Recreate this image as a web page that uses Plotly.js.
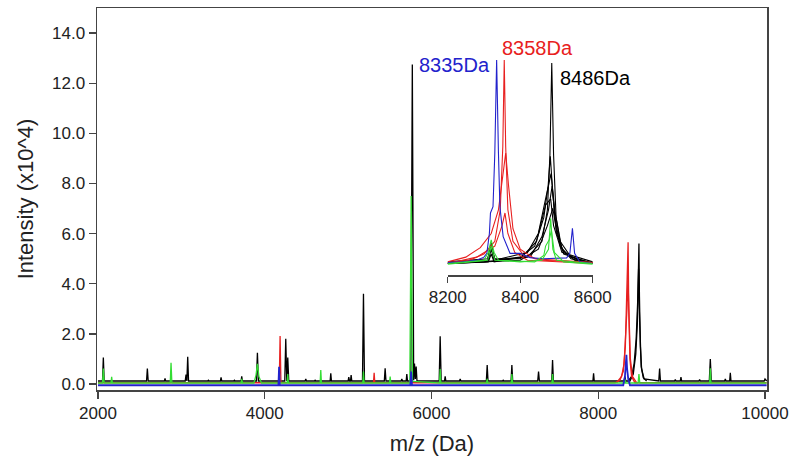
<!DOCTYPE html>
<html>
<head>
<meta charset="utf-8">
<script src="https://cdn.plot.ly/plotly-3.0.1.min.js"></script>
<style>html,body{margin:0;padding:0;background:#fff;}#chart{width:800px;height:472px;}</style>
</head>
<body>
<div id="chart"></div>
<script>
// ---------------- Main spectrum data (intensity in x10^4) ----------------
const blackMz = [2000,
  2054,2064,2074, 2582,2592,2602, 2796,2804,2812, 3046,3056,3066,3076,3086,
  3316,3324,3332, 3468,3476,3484, 3628,3636,3644, 3716,3724,3732, 3900,3912,3924,
  4240,4252,4264,4276,4288, 4484,4492,4500, 4596,4604,4612, 4784,4792,4800,
  5000,5008,5016,5028,5036,5044, 5172,5184,5196, 5434,5444,5454, 5636,5644,5652,
  5696,5704,5712, 5752,5770,5786,5796,5806,5816,5826, 6092,6104,6116, 6156,6164,6172,
  6336,6344,6352, 6658,6668,6678, 6852,6860,6868, 6954,6964,6974, 7274,7284,7294,
  7442,7452,7462, 7936,7944,7952, 8310,8320,8330,
  8380,8420,8450,8470,8482,8488,8494,8505,8520,8550,
  8726,8736,8746, 8916,8924,8932, 8984,8992,9000, 9208,9216,9224, 9332,9344,9356,
  9516,9524,9532, 9576,9584,9592, 9990,10000,10020];
const blackInt = [0.12,
  0.12,1.06,0.12, 0.12,0.62,0.12, 0.12,0.22,0.12, 0.12,0.37,0.12,1.09,0.12,
  0.12,0.15,0.12, 0.12,0.26,0.12, 0.12,0.15,0.12, 0.12,0.3,0.12, 0.12,1.25,0.12,
  0.12,1.8,0.12,1.06,0.12, 0.12,0.2,0.12, 0.12,0.15,0.12, 0.12,0.43,0.12,
  0.12,0.27,0.12,0.12,0.36,0.12, 0.12,3.6,0.12, 0.12,0.63,0.12, 0.12,0.2,0.12,
  0.12,0.4,0.12, 0.12,12.75,0.15,0.82,0.2,0.7,0.12, 0.12,1.9,0.12, 0.12,0.3,0.12,
  0.12,0.2,0.12, 0.12,0.76,0.12, 0.12,0.15,0.12, 0.12,0.76,0.12, 0.12,0.5,0.12,
  0.12,0.96,0.12, 0.12,0.43,0.12, 0.12,0.3,0.12,
  0.12,0.4,1.2,2.5,4.0,5.6,3.5,1.5,0.6,0.2,
  0.12,0.62,0.12, 0.12,0.18,0.12, 0.12,0.27,0.12, 0.12,0.18,0.12, 0.12,1.0,0.12,
  0.12,0.2,0.12, 0.12,0.45,0.12, 0.12,0.2,0.12];
const blackBMz  = [8360, 8400, 8430, 8455, 8472, 8484, 8492, 8502, 8515, 8540, 8580];
const blackBInt = [0.12, 0.3, 0.8, 1.8, 3.2, 4.6, 3.0, 1.6, 0.7, 0.25, 0.12];

const redMz  = [2000, 4174,4184,4194, 5304,5312,5320,
  8200,8260,8300,8325,8340,8352,8358,8366,8380,8400,8440, 10020];
const redInt = [0.05, 0.05,1.91,0.05, 0.05,0.45,0.05,
  0.05,0.15,0.5,1.5,3.0,4.6,5.65,3.0,1.0,0.3,0.05, 0.05];
const redBMz  = [8220, 8280, 8310, 8330, 8345, 8356, 8368, 8385, 8410, 8460];
const redBInt = [0.05, 0.3, 0.8, 1.8, 3.0, 4.2, 2.6, 1.0, 0.3, 0.05];

const blueMz  = [2000, 4164,4172,4180, 5746,5756,5766, 8300,8320,8330,8338,8346,8360,8380, 10020];
const blueInt = [-0.05, -0.05,0.69,-0.05, -0.05,0.5,-0.05, -0.05,0.3,0.7,1.16,0.6,0.2,-0.05, -0.05];

const greenMz = [2000, 2054,2064,2074, 2156,2164,2172, 2866,2876,2886, 3716,3724,3732,
  3870,3895,3912,3930,3960, 4268,4276,4284, 4664,4672,4680, 5176,5184,5192,
  5496,5504,5512, 5740,5756,5772, 6096,6104,6112, 6660,6668,6676, 6956,6964,6972,
  7444,7452,7460, 8312,8320,8328, 8478,8488,8498, 9336,9344,9352, 10020];
const greenInt = [0.04, 0.04,0.62,0.04, 0.04,0.29,0.04, 0.04,0.85,0.04, 0.04,0.2,0.04,
  0.04,0.35,0.8,0.3,0.04, 0.04,0.4,0.04, 0.04,0.56,0.04, 0.04,0.5,0.04,
  0.04,0.3,0.04, 0.04,7.5,0.1, 0.04,0.6,0.04, 0.04,0.2,0.04, 0.04,0.4,0.04,
  0.04,0.4,0.04, 0.04,0.2,0.04, 0.04,0.4,0.04, 0.04,0.63,0.04, 0.04];

// ---------------- Inset data (8200–8600 Da, normalised) ----------------
const insBlack1Mz = [8200,8300,8420,8460,8475,8482,8487,8492,8499,8515,8550,8600];
const insBlack1I  = [0.1,0.2,0.5,1.5,3.5,7.0,12.8,7.0,3.0,1.0,0.3,0.1];
const insBlack2Mz = [8200,8310,8320,8330,8400,8440,8465,8477,8483,8490,8500,8520,8560,8600];
const insBlack2I  = [0.15,0.3,1.4,0.3,0.5,1.2,3.0,5.0,6.9,4.5,2.0,0.8,0.3,0.15];
const insBlack3Mz = [8200,8312,8320,8328,8420,8450,8470,8485,8495,8510,8540,8600];
const insBlack3I  = [0.1,0.3,1.0,0.3,0.8,2.0,4.2,5.8,3.5,1.5,0.5,0.1];
const insBlack4Mz = [8200,8312,8320,8328,8430,8460,8478,8488,8496,8510,8540,8600];
const insBlack4I  = [0.1,0.2,0.7,0.2,0.6,1.8,3.5,5.0,3.0,1.2,0.4,0.1];
const insBlack5Mz = [8200,8310,8320,8330,8400,8445,8470,8484,8492,8515,8600];
const insBlack5I  = [0.2,0.4,1.2,0.4,0.4,1.5,3.8,4.2,2.5,0.8,0.2];
const insBlack6Mz = [8200,8400,8450,8475,8490,8500,8520,8600];
const insBlack6I  = [0.1,0.3,1.0,2.5,3.6,2.2,0.7,0.1];

const insRed1Mz = [8200,8260,8300,8330,8345,8352,8356,8360,8366,8380,8410,8460,8600];
const insRed1I  = [0.15,0.3,0.7,1.5,3.5,7.5,13.0,7.5,3.5,1.5,0.6,0.3,0.15];
const insRed2Mz = [8200,8250,8290,8320,8340,8352,8360,8368,8380,8400,8440,8600];
const insRed2I  = [0.2,0.5,1.1,2.0,3.5,5.5,7.1,5.0,2.3,1.0,0.4,0.15];
const insRed3Mz = [8200,8280,8330,8350,8358,8366,8385,8420,8600];
const insRed3I  = [0.1,0.5,1.2,2.5,3.3,2.0,0.8,0.3,0.1];

const insBlueMz = [8200,8240,8280,8300,8308,8315,8318,8325,8330,8335,8340,8344,8353,8372,8400,8427,8464,8528,8537,8544,8550,8564,8600];
const insBlueI  = [0.15,0.2,0.3,0.5,0.74,2.0,3.3,3.7,7.1,13.0,7.1,3.7,1.8,0.74,0.74,0.47,0.4,0.45,0.74,2.33,0.74,0.2,0.1];

const insGreen1Mz = [8200,8300,8312,8320,8328,8340,8400,8460,8478,8484,8490,8500,8600];
const insGreen1I  = [0.1,0.3,0.8,1.6,0.8,0.3,0.2,0.3,1.0,2.96,1.0,0.3,0.1];
const insGreen2Mz = [8200,8310,8320,8330,8440,8465,8470,8480,8486,8494,8520,8600];
const insGreen2I  = [0.05,0.3,1.2,0.3,0.2,0.6,1.2,1.6,2.2,0.8,0.2,0.05];

const xTicks = [2000, 4000, 6000, 8000, 10000];
const yTicks = [0, 2, 4, 6, 8, 10, 12, 14];
const insetTicks = [8200, 8400, 8600];
const labels = [
  {text: '8335Da', color: '#2222cc', x: 0.534, y: 0.852, anchor: 'center'},
  {text: '8358Da', color: '#e82020', x: 0.658, y: 0.895, anchor: 'center'},
  {text: '8486Da', color: '#000000', x: 0.688, y: 0.817, anchor: 'left'}
];

// ---------------- Colours ----------------
const C = {black: '#000000', red: '#e82020', blue: '#2222cc', green: '#33dd33'};
const FONT = 'Liberation Sans, Arial, sans-serif';

function tr(x, y, color, w, ax) {
  return {type: 'scatter', mode: 'lines', x: x, y: y,
    line: {color: color, width: w || 1.2}, hoverinfo: 'skip', showlegend: false,
    xaxis: ax ? 'x2' : 'x', yaxis: ax ? 'y2' : 'y'};
}

const data = [
  tr(blackMz, blackInt, C.black, 1.3),
  tr(blackBMz, blackBInt, C.black, 1.3),
  tr(redMz, redInt, C.red, 1.3),
  tr(redBMz, redBInt, C.red, 1.3),
  tr(greenMz, greenInt, C.green, 1.3),
  tr(blueMz, blueInt, C.blue, 1.8),
  // inset
  tr(insBlack1Mz, insBlack1I, C.black, 1.1, true),
  tr(insBlack2Mz, insBlack2I, C.black, 1.1, true),
  tr(insBlack3Mz, insBlack3I, C.black, 1.1, true),
  tr(insBlack4Mz, insBlack4I, C.black, 1.1, true),
  tr(insBlack5Mz, insBlack5I, C.black, 1.1, true),
  tr(insBlack6Mz, insBlack6I, C.black, 1.1, true),
  tr(insRed1Mz, insRed1I, C.red, 1.1, true),
  tr(insRed2Mz, insRed2I, C.red, 1.1, true),
  tr(insRed3Mz, insRed3I, C.red, 1.1, true),
  tr(insBlueMz, insBlueI, C.blue, 1.1, true),
  tr(insGreen1Mz, insGreen1I, C.green, 1.1, true),
  tr(insGreen2Mz, insGreen2I, C.green, 1.1, true)
];

const axisLine = '#444444';
const layout = {
  width: 800, height: 472,
  margin: {l: 97, r: 33, t: 8, b: 82, pad: 0},
  paper_bgcolor: '#ffffff', plot_bgcolor: 'rgba(0,0,0,0)',
  font: {family: FONT, color: '#222222', size: 17},
  showlegend: false,
  xaxis: {
    range: [1988, 10024], tickvals: xTicks, ticktext: xTicks.map(String),
    ticks: 'outside', ticklen: 7, tickwidth: 1.3, tickcolor: axisLine,
    showline: true, mirror: true, linecolor: axisLine, linewidth: 1.5,
    showgrid: false, zeroline: false, automargin: false,
    tickfont: {family: FONT, size: 17, color: '#222'},
    title: {text: 'm/z (Da)', font: {family: FONT, size: 22, color: '#222'}, standoff: 13}
  },
  yaxis: {
    range: [-0.24, 15.0], tickvals: yTicks, ticktext: yTicks.map(v => v.toFixed(1)),
    ticks: 'outside', ticklen: 7, tickwidth: 1.3, tickcolor: axisLine,
    showline: true, mirror: true, linecolor: axisLine, linewidth: 1.5,
    showgrid: false, zeroline: false, automargin: false,
    tickfont: {family: FONT, size: 17, color: '#222'},
    title: {text: 'Intensity (x10^4)', font: {family: FONT, size: 22, color: '#222'}, standoff: 12}
  },
  xaxis2: {
    domain: [0.5234, 0.7399], anchor: 'y2', range: [8200, 8600],
    tickvals: insetTicks, ticktext: insetTicks.map(String),
    ticks: 'outside', ticklen: 6, tickwidth: 1.3, tickcolor: axisLine,
    showline: true, linecolor: axisLine, linewidth: 1.5,
    showgrid: false, zeroline: false,
    tickfont: {family: FONT, size: 17, color: '#222'}
  },
  yaxis2: {
    domain: [0.301, 0.890], anchor: 'x2', range: [-0.634, 13.63],
    visible: false, showgrid: false, zeroline: false
  },
  annotations: labels.map(l => ({
    text: l.text, xref: 'paper', yref: 'paper', x: l.x, y: l.y,
    xanchor: l.anchor, yanchor: 'middle', showarrow: false,
    font: {family: FONT, size: 20, color: l.color}
  }))
};

Plotly.newPlot('chart', data, layout, {displayModeBar: false, staticPlot: true});
</script>
</body>
</html>
